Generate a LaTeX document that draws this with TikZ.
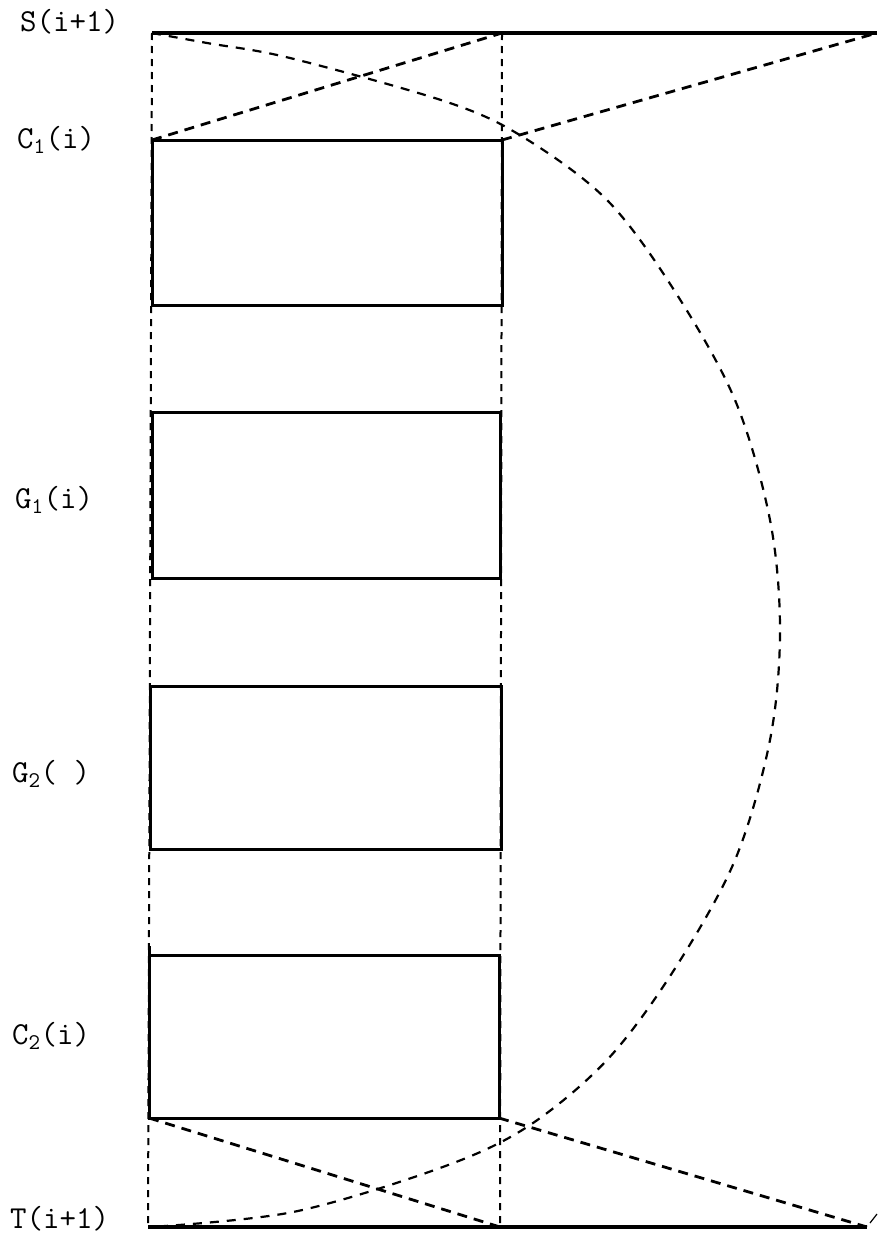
\documentclass[tikz,border=0pt]{standalone}
\usepackage{fontspec}
\begin{document}
\begin{tikzpicture}[x=1pt,y=-1pt,
  rail/.style={line width=4.2pt},
  stage/.style={draw, line width=3pt, outer sep=0pt, inner sep=0pt},
  guide/.style={line width=2pt, dash pattern=on 7pt off 6pt},
  ray/.style={line width=2.8pt, dash pattern=on 10pt off 7pt},
  arcline/.style={line width=2.2pt, dash pattern=on 9pt off 8pt},
  lbl/.style={anchor=base west, inner sep=0pt, font=\ttfamily\fontsize{32}{34}\selectfont}]
\useasboundingbox (0,0) rectangle (880,1242);

% end points of the two rails
\coordinate (sL) at (152,33);
\coordinate (sM) at (502,33);
\coordinate (sR) at (877,33);
\coordinate (tL) at (148,1227);
\coordinate (tM) at (500,1227);
\coordinate (tR) at (867,1227);

% vertical guides along the column of stages
\draw[guide] (sL) -- (tL);
\draw[guide] (sM) -- (tM);

% the four stages
\node[stage, minimum width=350pt, minimum height=165pt] (c1) at (327,222.5) {};
\node[stage, minimum width=348pt, minimum height=166pt] (g1) at (326,495) {};
\node[stage, minimum width=351pt, minimum height=163pt] (g2) at (325.5,767.5) {};
\node[stage, minimum width=350pt, minimum height=163pt] (c2) at (324,1036.5) {};
\draw[line width=3pt] (c2.north west) -- ++(0,-9);

% rails
\draw[rail] (sL) -- (sR);
\draw[rail] (tL) -- (tR);

% crossing rays
\draw[ray] (c1.north west) -- (sM);
\draw[ray] (c1.north east) -- (sR);
\draw[ray] (c2.south west) -- (tM);
\draw[ray] (c2.south east) -- (tR);
\draw[line width=1.2pt] (870,1223) -- (877,1214);

% large arc from rail to rail
\draw[arcline] plot[smooth, tension=0.55] coordinates {
  (152,33) (207,43) (290,58) (447,102) (523,137) (607,200) (674,290)
  (735,400) (770,520) (780,630) (770,740) (735,860) (674,970)
  (607,1060) (527,1127) (440,1168) (293,1212) (150,1227)};

% labels
\node[lbl] (ls) at (20,31) {S(i+1)};
\node[lbl] (lc1) at (17,148) {C\textsubscript{1}(i)};
\node[lbl] (lg1) at (15,508) {G\textsubscript{1}(i)};
\node[lbl] (lg2) at (12,782) {G\textsubscript{2}(~)};
\node[lbl] (lc2) at (12,1044) {C\textsubscript{2}(i)};
\node[lbl] (lt) at (10,1228) {T(i+1)};
\end{tikzpicture}
\end{document}
